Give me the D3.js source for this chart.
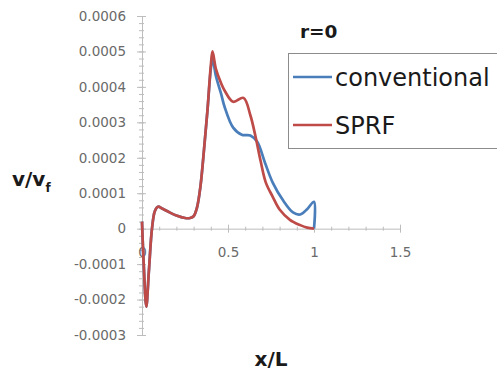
<!DOCTYPE html>
<html>
<head>
<meta charset="utf-8">
<script src="https://cdn.jsdelivr.net/npm/d3@7"></script>
<style>
  body { margin: 0; background: #fff; }
  svg { display: block; }
</style>
</head>
<body>
<svg id="chart" width="497" height="372"></svg>
<script>
// Data
const seriesNames = ["conventional", "SPRF"];
const seriesColors = ["#4a7ebb", "#be4b48"];

const convX = [0, 0.01, 0.025, 0.04, 0.058, 0.075, 0.093, 0.12, 0.16, 0.2, 0.25, 0.28, 0.3, 0.32, 0.34, 0.36, 0.38, 0.4, 0.41, 0.43, 0.46, 0.48, 0.53, 0.58, 0.63, 0.67, 0.715, 0.76, 0.82, 0.88, 0.92, 0.96, 1.0, 1.0];
const convY = [0.00002, -0.0001, -0.00022, -0.00012, 0, 0.00005, 0.000062, 0.000056, 0.000046, 0.000037, 0.00003, 0.00003, 0.000035, 0.00006, 0.00012, 0.00022, 0.00033, 0.00045, 0.00048, 0.00043, 0.00038, 0.000344, 0.000285, 0.000265, 0.000263, 0.000245, 0.000186, 0.00013, 0.00008, 0.000045, 0.00004, 0.000055, 0.000076, 0];

const sprfX = [0, 0.01, 0.025, 0.04, 0.058, 0.075, 0.093, 0.12, 0.16, 0.2, 0.25, 0.28, 0.3, 0.32, 0.34, 0.36, 0.38, 0.4, 0.41, 0.43, 0.46, 0.48, 0.53, 0.59, 0.63, 0.66, 0.69, 0.72, 0.76, 0.8, 0.86, 0.92, 0.96, 1.0];
const sprfY = [0.00002, -0.0001, -0.00022, -0.00012, 0, 0.00005, 0.000062, 0.000056, 0.000046, 0.000037, 0.00003, 0.00003, 0.000035, 0.00006, 0.00012, 0.00022, 0.00033, 0.00046, 0.0005, 0.00045, 0.00041, 0.00039, 0.000358, 0.000369, 0.00032, 0.00026, 0.00019, 0.00013, 0.00009, 0.000054, 0.000025, 0.00001, 0.000003, 0];

const xTicks = [0, 0.5, 1, 1.5];
const xTickLabels = ["0", "0.5", "1", "1.5"];
const yTicks = [-0.0003, -0.0002, -0.0001, 0, 0.0001, 0.0002, 0.0003, 0.0004, 0.0005, 0.0006];
const yTickLabels = ["-0.0003", "-0.0002", "-0.0001", "0", "0.0001", "0.0002", "0.0003", "0.0004", "0.0005", "0.0006"];

const svg = d3.select("#chart");
const font = "DejaVu Sans, sans-serif";

// Scales
const x = d3.scaleLinear().domain([0, 1.5]).range([142, 400]);
const y = d3.scaleLinear().domain([-0.0003, 0.0006]).range([335, 16]);

const axisColor = "#bdbdbd";
const labelColor = "#6a6a6a";

// Minor ticks y
const yMinor = d3.range(-0.0003, 0.00060001, 0.00002);
svg.append("g")
    .attr("transform", `translate(${x(0)},0)`)
    .call(d3.axisLeft(y).tickValues(yMinor).tickFormat("").tickSize(3).tickSizeOuter(0))
    .call(g => g.select(".domain").remove())
    .call(g => g.selectAll("line").attr("x1", 2).attr("stroke", axisColor));

// Minor ticks x
const xMinor = d3.range(0, 1.5001, 0.1);
svg.append("g")
    .attr("transform", `translate(0,${y(0)})`)
    .call(d3.axisBottom(x).tickValues(xMinor).tickFormat("").tickSize(2).tickSizeOuter(0))
    .call(g => g.select(".domain").remove())
    .call(g => g.selectAll("line").attr("y1", -2).attr("stroke", axisColor));

// Y axis
svg.append("g")
    .attr("transform", `translate(${x(0)},0)`)
    .call(d3.axisLeft(y).tickValues(yTicks)
        .tickFormat((d, i) => yTickLabels[i]).tickSize(5).tickSizeOuter(0).tickPadding(11))
    .call(g => g.select(".domain").attr("stroke", axisColor))
    .call(g => g.selectAll("line").attr("x1", 4).attr("stroke", axisColor))
    .call(g => g.selectAll("text").attr("fill", labelColor)
        .style("font-family", font).style("font-size", "13.5px"));

// X axis
svg.append("g")
    .attr("transform", `translate(0,${y(0)})`)
    .call(d3.axisBottom(x).tickValues(xTicks)
        .tickFormat((d, i) => xTickLabels[i]).tickSize(4).tickSizeOuter(0).tickPadding(15))
    .call(g => g.select(".domain").attr("stroke", axisColor))
    .call(g => g.selectAll("line").attr("y1", -4).attr("stroke", axisColor))
    .call(g => g.selectAll("text").attr("fill", labelColor)
        .style("font-family", font).style("font-size", "13.5px"));

// Lines
const line = d3.line()
    .x(d => x(d[0]))
    .y(d => y(d[1]))
    .curve(d3.curveCatmullRom.alpha(0.5));

const series = [
    d3.zip(convX, convY),
    d3.zip(sprfX, sprfY)
];

series.forEach((pts, i) => {
    svg.append("path")
        .datum(pts)
        .attr("fill", "none")
        .attr("stroke", seriesColors[i])
        .attr("stroke-width", 2.7)
        .attr("stroke-linejoin", "round")
        .attr("d", line);
});

// Axis titles
svg.append("text")
    .attr("x", 12).attr("y", 186)
    .style("font-family", font).style("font-weight", "bold").style("font-size", "20px")
    .attr("fill", "#1a1a1a")
    .text("v/v")
    .append("tspan")
    .attr("dy", 6).style("font-size", "12px")
    .text("f");

svg.append("text")
    .attr("x", 271).attr("y", 366)
    .attr("text-anchor", "middle")
    .style("font-family", font).style("font-weight", "bold").style("font-size", "20px")
    .attr("fill", "#1a1a1a")
    .text("x/L");

svg.append("text")
    .attr("x", 300).attr("y", 38)
    .style("font-family", font).style("font-weight", "bold").style("font-size", "18.5px")
    .attr("fill", "#1a1a1a")
    .text("r=0");

// Legend
const legend = svg.append("g");
legend.append("rect")
    .attr("x", 288.5).attr("y", 53.5)
    .attr("width", 220).attr("height", 95)
    .attr("fill", "#fff")
    .attr("stroke", "#8c8c8c");

const legendItems = legend.selectAll(".legend-item")
    .data(seriesNames)
    .enter().append("g")
    .attr("class", "legend-item")
    .attr("transform", (d, i) => `translate(0, ${77 + i * 48})`);

legendItems.append("line")
    .attr("x1", 293).attr("x2", 332)
    .attr("stroke", (d, i) => seriesColors[i])
    .attr("stroke-width", 2.7);

legendItems.append("text")
    .attr("x", 335).attr("y", 8.5)
    .style("font-family", font).style("font-size", "24px")
    .attr("fill", "#1a1a1a")
    .text(d => d);
</script>
</body>
</html>
